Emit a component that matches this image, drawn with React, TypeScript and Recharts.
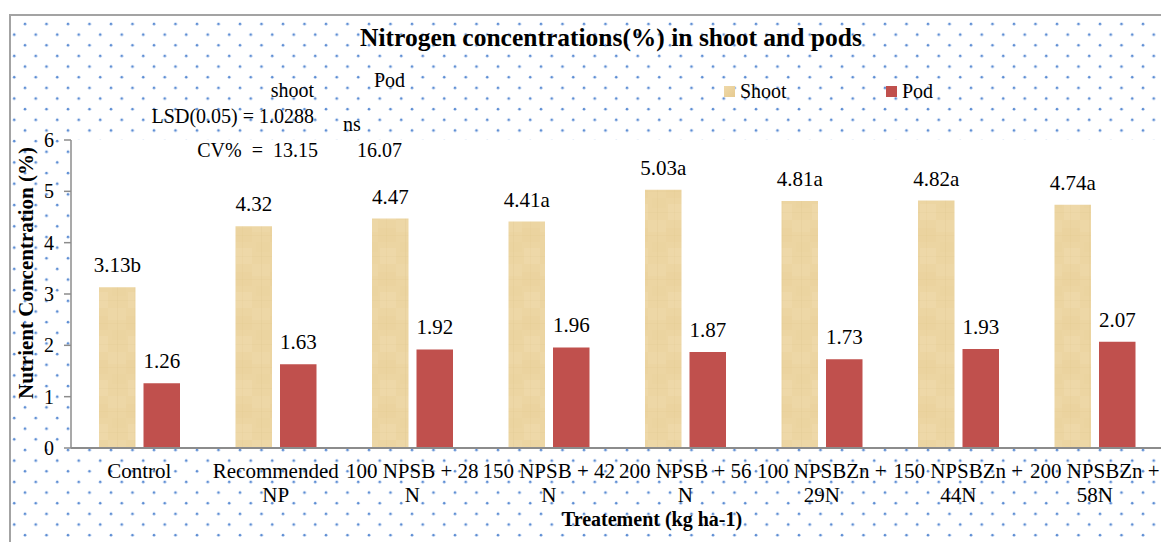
import React from "react";
import { BarChart, Bar, XAxis, YAxis, CartesianGrid, LabelList, Legend } from "recharts";

const categories = [
  "Control",
  "Recommended NP",
  "100 NPSB + 28 N",
  "150 NPSB + 42 N",
  "200 NPSB + 56 N",
  "100 NPSBZn + 29N",
  "150 NPSBZn + 44N",
  "200 NPSBZn + 58N",
];
const tickLines = [
  ["Control"],
  ["Recommended", "NP"],
  ["100 NPSB + 28", "N"],
  ["150 NPSB + 42", "N"],
  ["200 NPSB + 56", "N"],
  ["100 NPSBZn +", "29N"],
  ["150 NPSBZn +", "44N"],
  ["200 NPSBZn +", "58N"],
];
const shootValues = [3.13, 4.32, 4.47, 4.41, 5.03, 4.81, 4.82, 4.74];
const podValues = [1.26, 1.63, 1.92, 1.96, 1.87, 1.73, 1.93, 2.07];
const shootLabels = ["3.13b", "4.32", "4.47", "4.41a", "5.03a", "4.81a", "4.82a", "4.74a"];
const podLabels = ["1.26", "1.63", "1.92", "1.96", "1.87", "1.73", "1.93", "2.07"];
const yTicks = [0, 1, 2, 3, 4, 5, 6];
const seriesOrder = ["shoot", "pod"];

const data = categories.map((c, i) => ({
  name: c,
  shoot: shootValues[i],
  pod: podValues[i],
  shootLabel: shootLabels[i],
  podLabel: podLabels[i],
}));

const FONT = '"Liberation Serif", "Times New Roman", serif';
const SHOOT = "#ecd5a2";
const POD = "#c0504d";

const CatTick = (props: any) => {
  const { x, y, payload } = props;
  const lines = tickLines[payload.index] ?? [payload.value];
  return (
    <text x={x} y={y} textAnchor="middle" fontSize={21} fill="#000" fontFamily={FONT}>
      {lines.map((l: string, i: number) => (
        <tspan key={i} x={x} dy={i === 0 ? 30 : 23.5}>
          {l}
        </tspan>
      ))}
    </text>
  );
};

const LegendContent = (props: any) => {
  const items = [...(props.payload || [])].sort(
    (a: any, b: any) => seriesOrder.indexOf(a.dataKey) - seriesOrder.indexOf(b.dataKey)
  );
  return (
    <div style={{ display: "flex", fontFamily: FONT, fontSize: 20, lineHeight: "20px", color: "#000" }}>
      {items.map((p: any, i: number) => (
        <div key={i} style={{ width: 162, display: "flex", alignItems: "center" }}>
          <span
            style={{
              display: "inline-block",
              width: 11,
              height: 11,
              marginRight: 5,
              background: p.dataKey === "shoot" ? "linear-gradient(135deg,#efd9a9,#e6ca90)" : POD,
            }}
          />
          <span>{p.value}</span>
        </div>
      ))}
    </div>
  );
};

export default function App() {
  return (
    <div
      style={{
        position: "fixed",
        left: 0,
        top: 0,
        width: 1161,
        height: 542,
        overflow: "hidden",
        background: "#fff",
        fontFamily: FONT,
      }}
    >
      <svg width={1161} height={542} style={{ position: "absolute", left: 0, top: 0 }}>
        <defs>
          <pattern
            id="dots"
            x={0}
            y={0}
            width={21.5}
            height={21.3}
            patternUnits="userSpaceOnUse"
            patternTransform="translate(-1.5,-2.3)"
          >
            <circle cx={5} cy={5} r={1.3} fill="#5b8cd3" />
            <circle cx={15.75} cy={15.65} r={1.3} fill="#5b8cd3" />
          </pattern>
        </defs>
        <rect x={10} y={15} width={1200} height={600} fill="url(#dots)" stroke="#a3a3a3" strokeWidth={2} />
      </svg>
      <div style={{ position: "absolute", left: 0, top: 0 }}>
        <BarChart
          width={1175}
          height={542}
          data={data}
          margin={{ top: 140, right: 12, left: 0, bottom: 0 }}
          barSize={36.5}
          barGap={8}
        >
          <defs>
            <pattern id="papyrus" x={0} y={0} width={36} height={44} patternUnits="userSpaceOnUse">
              <rect width={36} height={44} fill={SHOOT} />
              <rect x={0} y={0} width={18} height={12} fill="#edd7a6" />
              <rect x={18} y={8} width={18} height={14} fill="#ebd39f" />
              <rect x={4} y={22} width={14} height={10} fill="#ebd4a0" />
              <rect x={20} y={28} width={16} height={16} fill="#eed8a8" />
              <rect x={9} y={0} width={1} height={44} fill="#d9bf88" opacity={0.18} />
              <rect x={26} y={0} width={1} height={44} fill="#d9bf88" opacity={0.15} />
              <rect x={0} y={15} width={36} height={1} fill="#d9bf88" opacity={0.15} />
              <rect x={0} y={36} width={36} height={1} fill="#d9bf88" opacity={0.12} />
            </pattern>
          </defs>
          <CartesianGrid horizontal={false} vertical={false} fill="#ffffff" />
          <XAxis
            dataKey="name"
            height={94}
            axisLine={{ stroke: "#8c8c8c", strokeWidth: 2 }}
            tickLine={false}
            tickSize={0}
            tickMargin={0}
            interval={0}
            tick={<CatTick />}
          />
          <YAxis
            width={71}
            domain={[0, 6]}
            ticks={yTicks}
            axisLine={{ stroke: "#8c8c8c", strokeWidth: 1.5 }}
            tickLine={{ stroke: "#8c8c8c", strokeWidth: 1.5 }}
            tickSize={7}
            tickMargin={10}
            tick={{ fill: "#000", fontSize: 20, fontFamily: FONT }}
          />
          <Legend
            layout="horizontal"
            verticalAlign="middle"
            align="center"
            content={<LegendContent />}
            wrapperStyle={{ position: "absolute", top: 81, left: 724, width: 340 }}
          />
          <Bar dataKey="shoot" name="Shoot" fill="url(#papyrus)" isAnimationActive={false}>
            <LabelList
              dataKey="shootLabel"
              position="top"
              offset={15}
              fill="#000"
              fontSize={21}
              fontFamily={FONT}
            />
          </Bar>
          <Bar dataKey="pod" name="Pod" fill={POD} isAnimationActive={false}>
            <LabelList
              dataKey="podLabel"
              position="top"
              offset={15}
              fill="#000"
              fontSize={21}
              fontFamily={FONT}
            />
          </Bar>
        </BarChart>
      </div>
      <svg
        width={1161}
        height={542}
        style={{ position: "absolute", left: 0, top: 0, pointerEvents: "none" }}
        fontFamily={FONT}
      >
        <text x={611} y={46} textAnchor="middle" fontSize={25.5} fontWeight="bold" fill="#000">
          Nitrogen concentrations(%) in shoot and pods
        </text>
        <text x={314} y={97} textAnchor="end" fontSize={20} fill="#000">shoot</text>
        <text x={374} y={87} fontSize={20} fill="#000">Pod</text>
        <text x={314} y={123} textAnchor="end" fontSize={20} fill="#000">LSD(0.05) = 1.0288</text>
        <text x={343} y={131} fontSize={20} fill="#000">ns</text>
        <text x={318} y={157} textAnchor="end" fontSize={20} fill="#000" style={{ whiteSpace: "pre" }}>
          {"CV%  =  13.15"}
        </text>
        <text x={357} y={157} fontSize={20} fill="#000">16.07</text>
        <text
          x={0}
          y={0}
          transform="translate(33,273) rotate(-90)"
          textAnchor="middle"
          fontSize={21}
          fontWeight="bold"
          fill="#000"
        >
          Nutrient Concentration (%)
        </text>
        <text x={652} y={526} textAnchor="middle" fontSize={20} fontWeight="bold" fill="#000">
          Treatement (kg ha-1)
        </text>
      </svg>
    </div>
  );
}
